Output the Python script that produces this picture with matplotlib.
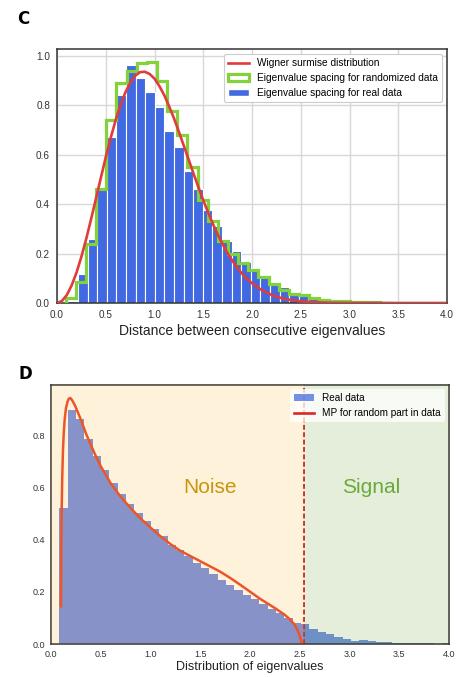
import numpy as np
import matplotlib
matplotlib.use("Agg")
import matplotlib.pyplot as plt
from matplotlib.patches import Patch
from matplotlib.lines import Line2D

plt.rcParams['font.family'] = ['Liberation Sans', 'DejaVu Sans']

# ---------------- Panel C data ----------------
real_edges = [0.116, 0.2145, 0.313, 0.4115, 0.51, 0.6085, 0.707, 0.8055, 0.904, 1.0025,
              1.101, 1.1995, 1.298, 1.3965, 1.495, 1.5935, 1.692, 1.7905, 1.889, 1.9875,
              2.086, 2.1845, 2.283, 2.3815, 2.48, 2.5785, 2.677, 2.7755, 2.874, 2.9725,
              3.071, 3.1695, 3.268, 3.3665]
real_density = [0.008, 0.116, 0.26, 0.465, 0.67, 0.84, 0.964, 0.91, 0.853, 0.795,
                0.696, 0.632, 0.533, 0.46, 0.376, 0.31, 0.25, 0.21, 0.165, 0.14,
                0.113, 0.08, 0.066, 0.046, 0.039, 0.026, 0.02, 0.014, 0.01, 0.007,
                0.005, 0.003, 0.002]

rand_edges = [0.09, 0.194, 0.298, 0.402, 0.506, 0.61, 0.714, 0.818, 0.922, 1.026,
              1.13, 1.234, 1.338, 1.442, 1.546, 1.65, 1.754, 1.858, 1.962, 2.066,
              2.17, 2.274, 2.378, 2.482, 2.586, 2.69, 2.794, 2.898, 3.002, 3.106,
              3.21, 3.314, 3.418]
rand_density = [0.02, 0.085, 0.24, 0.46, 0.74, 0.89, 0.94, 0.97, 0.975, 0.9,
                0.776, 0.68, 0.55, 0.417, 0.33, 0.25, 0.2, 0.16, 0.134, 0.107,
                0.076, 0.053, 0.036, 0.032, 0.02, 0.014, 0.01, 0.008, 0.006, 0.004,
                0.003, 0.002]

wigner_x = [0.0, 0.05, 0.10, 0.15, 0.20, 0.25, 0.30, 0.35, 0.40, 0.45, 0.50, 0.55, 0.60,
            0.65, 0.70, 0.75, 0.80, 0.85, 0.90, 0.95, 1.00, 1.05, 1.10, 1.15, 1.20, 1.25,
            1.30, 1.35, 1.40, 1.45, 1.50, 1.55, 1.60, 1.65, 1.70, 1.75, 1.80, 1.85, 1.90,
            1.95, 2.00, 2.10, 2.20, 2.30, 2.40, 2.50, 2.60, 2.80, 3.00, 3.50, 4.00]
wigner_y = [0.0, 0.008, 0.032, 0.071, 0.123, 0.187, 0.260, 0.340, 0.423, 0.507, 0.590, 0.667,
            0.738, 0.800, 0.851, 0.891, 0.919, 0.934, 0.936, 0.927, 0.908, 0.878, 0.841,
            0.796, 0.747, 0.693, 0.637, 0.581, 0.524, 0.469, 0.416, 0.366, 0.319, 0.276,
            0.237, 0.201, 0.170, 0.142, 0.118, 0.097, 0.080, 0.052, 0.033, 0.020, 0.012,
            0.007, 0.004, 0.001, 0.0003, 0.0, 0.0]

# ---------------- Panel D data ----------------
mp_edges = [0.084, 0.168, 0.251, 0.335, 0.419, 0.503, 0.586, 0.670, 0.754, 0.837,
            0.921, 1.005, 1.088, 1.172, 1.256, 1.340, 1.423, 1.507, 1.591, 1.674,
            1.758, 1.842, 1.925, 2.009, 2.093, 2.177, 2.260, 2.344, 2.428, 2.511,
            2.595, 2.679, 2.762, 2.846, 2.930, 3.014, 3.097, 3.181, 3.265, 3.348,
            3.432, 3.516, 3.599, 3.683, 3.767, 3.851, 3.934, 4.018]
eig_density = [0.522, 0.90, 0.865, 0.788, 0.724, 0.669, 0.619, 0.577, 0.538, 0.504,
               0.474, 0.442, 0.414, 0.382, 0.363, 0.337, 0.313, 0.291, 0.269, 0.246,
               0.227, 0.208, 0.188, 0.172, 0.153, 0.133, 0.118, 0.099, 0.082, 0.075,
               0.058, 0.046, 0.04, 0.027, 0.019, 0.013, 0.015, 0.01, 0.006, 0.009,
               0.005, 0.003, 0.003, 0.002, 0.002, 0.001, 0.002]

mp_x = [0.100, 0.104, 0.108, 0.113, 0.120, 0.128, 0.138, 0.150, 0.165, 0.180, 0.195,
        0.215, 0.24, 0.27, 0.30, 0.35, 0.40, 0.45, 0.50, 0.60, 0.70, 0.80, 0.90, 1.00,
        1.10, 1.20, 1.30, 1.40, 1.50, 1.60, 1.70, 1.80, 1.90, 2.00, 2.10, 2.20, 2.25,
        2.30, 2.35, 2.40, 2.44, 2.47, 2.49, 2.505, 2.515, 2.52]
mp_y = [0.145, 0.40, 0.53, 0.64, 0.74, 0.81, 0.865, 0.905, 0.93, 0.943, 0.945,
        0.935, 0.917, 0.89, 0.862, 0.81, 0.765, 0.722, 0.683, 0.617, 0.566, 0.522, 0.482, 0.447,
        0.414, 0.384, 0.358, 0.338, 0.318, 0.298, 0.278, 0.254, 0.228, 0.201, 0.174, 0.15, 0.138,
        0.125, 0.112, 0.095, 0.078, 0.06, 0.042, 0.025, 0.01, 0.0]

threshold = 2.54

# ---------------- Figure ----------------
fig = plt.figure(figsize=(4.57, 6.77), dpi=100)

# ---- Panel C ----
axC = fig.add_axes([57/457, 1-303/677, 390/457, 254/677])
re = np.array(real_edges)
axC.bar(re[:-1], real_density, width=np.diff(re), align='edge', color='#4169e1',
        edgecolor='white', linewidth=0.8, zorder=2)
axC.stairs(rand_density, rand_edges, color='#82d23c', linewidth=2.3, zorder=3)
axC.plot(wigner_x, wigner_y, color='#e03c3c', linewidth=1.9, zorder=4)
axC.set_xlim(0, 4.0)
axC.set_ylim(0, 1.028)
axC.set_xticks(np.arange(0, 4.01, 0.5))
axC.set_yticks(np.arange(0, 1.01, 0.2))
axC.grid(True, color='#d8d8d8', linewidth=1.0, zorder=0)
axC.set_axisbelow(True)
axC.tick_params(length=0, labelsize=7.2, pad=5, colors='#333333')
for s in axC.spines.values():
    s.set_color('#333333')
    s.set_linewidth(1.1)
axC.set_xlabel('Distance between consecutive eigenvalues', fontsize=10, color='#222222', labelpad=3)
handlesC = [Line2D([], [], color='#e03c3c', linewidth=1.9),
            Patch(facecolor='white', edgecolor='#82d23c', linewidth=2.3),
            Patch(facecolor='#4169e1', edgecolor='white')]
legC = axC.legend(handlesC, ['Wigner surmise distribution',
                             'Eigenvalue spacing for randomized data',
                             'Eigenvalue spacing for real data'],
                  loc='upper right', fontsize=7.3, frameon=True, framealpha=1,
                  edgecolor='#cccccc', fancybox=True)
legC.get_frame().set_linewidth(0.8)
legC.set_zorder(10)

# ---- Panel D ----
axD = fig.add_axes([51/457, 1-644/677, 398/457, 259/677])
me = np.array(mp_edges)
axD.bar(me[:-1], eig_density, width=np.diff(me), align='edge', color='#4169e1',
        alpha=0.73, linewidth=0, zorder=1)
axD.axvline(threshold, color='#dc2828', linewidth=1.4, dashes=(2.5, 1.3), zorder=2)
axD.plot(mp_x, mp_y, color='#e84a30', linewidth=1.8, zorder=2)
axD.axvspan(0, threshold, color='#ffa500', alpha=0.14, linewidth=0, zorder=3)
axD.axvspan(threshold, 4.0, color='#4b8e08', alpha=0.15, linewidth=0, zorder=3)
axD.text(1.6, 0.60, 'Noise', fontsize=15, color='#c8960c', ha='center', va='center', zorder=5)
axD.text(3.22, 0.60, 'Signal', fontsize=15, color='#6aaa3a', ha='center', va='center', zorder=5)
axD.set_xlim(0, 4.0)
axD.set_ylim(0, 0.995)
axD.set_xticks(np.arange(0, 4.01, 0.5))
axD.set_yticks(np.arange(0, 0.81, 0.2))
axD.tick_params(length=0, labelsize=6.5, pad=4, colors='#333333')
for s in axD.spines.values():
    s.set_color('#333333')
    s.set_linewidth(1.1)
axD.set_xlabel('Distribution of eigenvalues', fontsize=9, color='#222222', labelpad=2)
handlesD = [Patch(facecolor='#4169e1', alpha=0.73),
            Line2D([], [], color='#dc2828', linewidth=1.9)]
legD = axD.legend(handlesD, ['Real data', 'MP for random part in data'],
                  loc='upper right', fontsize=7.2, frameon=True, framealpha=0.75,
                  edgecolor='none', facecolor='white', borderaxespad=0.4)
legD.set_zorder(10)

fig.text(23/457, 1-19/677, 'C', fontsize=12, fontweight='bold', ha='center', va='center',
         family='DejaVu Sans')
fig.text(25/457, 1-374/677, 'D', fontsize=12, fontweight='bold', ha='center', va='center',
         family='DejaVu Sans')

fig.savefig('out.png', dpi=100)
